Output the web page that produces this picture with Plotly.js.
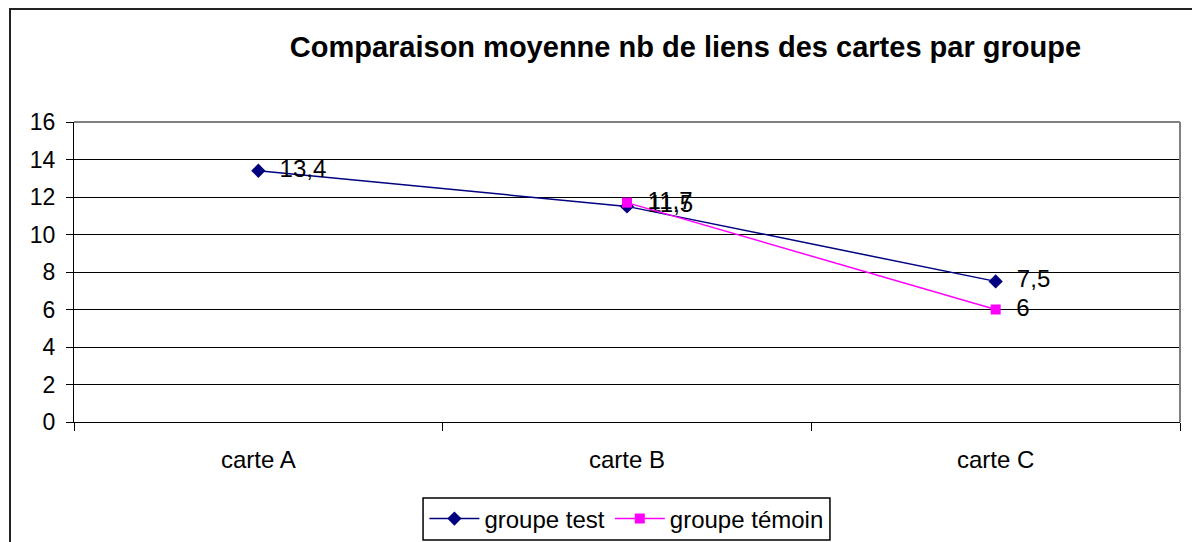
<!DOCTYPE html>
<html><head><meta charset="utf-8">
<script src="https://cdn.plot.ly/plotly-3.0.1.min.js"></script>
<style>
body{margin:0;background:#fff;}
#wrap{position:relative;width:1192px;height:542px;overflow:hidden;}
#chart{width:1192px;height:542px;}
#frame{position:absolute;left:9px;top:8px;width:1300px;height:700px;border-left:2px solid #222;border-top:2px solid #222;pointer-events:none;}
</style></head>
<body><div id="wrap"><div id="chart"></div><div id="frame"></div></div>
<script>
const categories = ["carte A", "carte B", "carte C"];
const groupeTest = [13.4, 11.5, 7.5];
const groupeTemoin = [null, 11.7, 6];
const labelsTest = ["13,4", "11,5", "7,5"];
const labelsTemoin = ["", "11,7", "6"];
const yTicks = [0, 2, 4, 6, 8, 10, 12, 14, 16];

const fam = "Liberation Sans, Arial, sans-serif";
const pad = s => (s ? "\u00a0\u00a0" + s : s);

const traces = [
  {x: categories, y: groupeTest, name: "groupe test", type: "scatter", mode: "lines+markers+text",
   text: labelsTest.map(pad), textposition: "middle right", textfont: {size: 24, family: fam, color: "#000"},
   line: {color: "#000080", width: 1.5}, marker: {symbol: "diamond", size: 11, color: "#000080"}},
  {x: categories, y: groupeTemoin, name: "groupe témoin", type: "scatter", mode: "lines+markers+text",
   text: labelsTemoin.map(pad), textposition: "middle right", textfont: {size: 24, family: fam, color: "#000"},
   line: {color: "#FF00FF", width: 1.5}, marker: {symbol: "square", size: 10, color: "#FF00FF"}}
];

const layout = {
  width: 1192, height: 542,
  margin: {l: 74, r: 12, t: 122, b: 120, autoexpand: false},
  paper_bgcolor: "#fff", plot_bgcolor: "#fff",
  font: {family: fam, size: 23, color: "#000"},
  title: {text: "<b>Comparaison moyenne nb de liens des cartes par groupe</b>", x: 0.575, xanchor: "center",
          y: 0.913, yanchor: "middle", font: {size: 29, family: fam, color: "#000"}},
  showlegend: true,
  legend: {orientation: "h", x: 0.5255, xref: "container", xanchor: "center", y: 0.0424, yref: "container", yanchor: "middle",
           borderwidth: 0, font: {size: 24}, bgcolor: "rgba(0,0,0,0)", itemwidth: 50, valign: "middle"},
  xaxis: {type: "category", range: [-0.5, 2.5], tickson: "boundaries", ticks: "outside", ticklen: 8,
          tickcolor: "#000", showgrid: false, showline: true, linecolor: "#000", linewidth: 1,
          tickfont: {size: 24}, ticklabelstandoff: 16, zeroline: false, fixedrange: true},
  yaxis: {range: [0, 16], tickvals: yTicks, ticks: "outside", ticklen: 7, tickcolor: "#000",
          showgrid: true, gridcolor: "#000", gridwidth: 1, showline: true, linecolor: "#000",
          zeroline: false, tickfont: {size: 23}, ticklabelstandoff: 6, fixedrange: true},
  shapes: [
    {type: "line", xref: "paper", yref: "paper", x0: 0, x1: 1, y0: 1, y1: 1, line: {color: "#808080", width: 2}},
    {type: "line", xref: "paper", yref: "paper", x0: 1, x1: 1, y0: 0, y1: 1, line: {color: "#808080", width: 2}},
    {type: "rect", xref: "paper", yref: "paper", x0: 0.3156, x1: 0.6835, y0: -0.3933, y1: -0.2533,
     line: {color: "#000", width: 1.5}, fillcolor: "rgba(0,0,0,0)"}
  ]
};

Plotly.newPlot("chart", traces, layout, {displayModeBar: false, staticPlot: true});
</script></body></html>
